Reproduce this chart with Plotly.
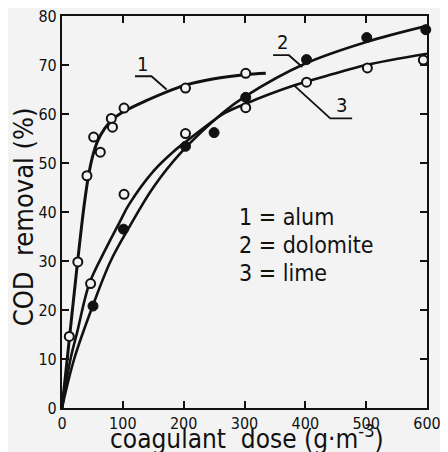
import plotly.graph_objects as go

# measured points
dose_alum = [12, 26, 41, 52, 63, 81, 83, 102, 203, 302]
cod_alum = [14.6, 29.8, 47.4, 55.3, 52.2, 59.1, 57.3, 61.2, 65.3, 68.3]
dose_dolomite = [51, 101, 203, 250, 302, 402, 501, 598]
cod_dolomite = [20.8, 36.5, 53.4, 56.2, 63.4, 71.1, 75.6, 77.2]
dose_lime = [47, 102, 203, 302, 402, 502, 594]
cod_lime = [25.4, 43.6, 56.0, 61.3, 66.5, 69.4, 71.0]

# fitted curves
curve1_x = [0, 12, 24, 36, 43, 50, 58, 70, 84, 103, 136, 200, 250, 300, 335]
curve1_y = [0, 14, 28, 41, 47, 51.2, 54.3, 57, 59, 60.6, 62.6, 65.8, 67.2, 68, 68.3]
curve2_x = [0, 20, 51, 80, 111, 150, 197, 265, 300, 400, 500, 600]
curve2_y = [0, 10, 21, 30, 37, 45, 52.3, 60.3, 63.5, 70.3, 74.7, 78]
curve3_x = [0, 14, 25, 45, 70, 95, 110, 150, 183, 205, 265, 300, 381, 450, 500, 600]
curve3_y = [0, 10, 15.5, 25.4, 32, 38, 41.5, 48.3, 52.3, 54.5, 60, 62, 65.8, 68.3, 70, 72.3]

legend_lines = ["1 = alum", "2 = dolomite", "3 = lime"]
x_ticks = [0, 100, 200, 300, 400, 500, 600]
y_ticks = [0, 10, 20, 30, 40, 50, 60, 70, 80]

BG = "#f3f3f3"
INK = "#111111"
FONT = "DejaVu Sans Condensed, DejaVu Sans, sans-serif"

fig = go.Figure()
for cx, cy, w in [(curve1_x, curve1_y, 3), (curve2_x, curve2_y, 2.6), (curve3_x, curve3_y, 2.6)]:
    fig.add_trace(go.Scatter(x=cx, y=cy, mode="lines", line=dict(color=INK, width=w, shape="spline"),
                             hoverinfo="skip", cliponaxis=False))

open_marker = dict(symbol="circle", size=9, color=BG, line=dict(color=INK, width=2))
fig.add_trace(go.Scatter(x=dose_alum, y=cod_alum, mode="markers", marker=open_marker, cliponaxis=False))
fig.add_trace(go.Scatter(x=dose_lime, y=cod_lime, mode="markers", marker=open_marker, cliponaxis=False))
fig.add_trace(go.Scatter(x=dose_dolomite, y=cod_dolomite, mode="markers",
                         marker=dict(symbol="circle", size=10, color=INK, line=dict(color=INK, width=1)),
                         cliponaxis=False))

shapes = []
def leader(pts):
    path = "M " + " L ".join(f"{x},{y}" for x, y in pts)
    shapes.append(dict(type="path", xref="x", yref="y", path=path, line=dict(color=INK, width=1.8)))

leader([(120, 67.7), (147, 67.7), (172, 65)])
leader([(347, 72), (373, 72), (395, 69.6)])
leader([(381, 65.9), (441, 59.1), (477, 59.1)])

annotations = [
    dict(x=132, y=70.2, text="1", showarrow=False, xref="x", yref="y", font=dict(size=20, color=INK, family=FONT)),
    dict(x=362, y=74.6, text="2", showarrow=False, xref="x", yref="y", font=dict(size=20, color=INK, family=FONT)),
    dict(x=459, y=61.9, text="3", showarrow=False, xref="x", yref="y", font=dict(size=20, color=INK, family=FONT)),
]
for i, t in enumerate(legend_lines):
    annotations.append(dict(x=287, y=39.0 - 5.7 * i, text=t, showarrow=False, xref="x", yref="y",
                            xanchor="left", yanchor="middle", font=dict(size=23, color=INK, family=FONT)))
annotations.append(dict(x=0.508, y=-0.075, xref="paper", yref="paper", text="coagulant  dose (g·m<sup>-3</sup>)",
                        showarrow=False, xanchor="center", yanchor="middle", font=dict(size=26, color=INK, family=FONT)))
annotations.append(dict(x=-0.107, y=0.489, xref="paper", yref="paper", text="COD  removal (%)", textangle=-90,
                        showarrow=False, xanchor="center", yanchor="middle", font=dict(size=27, color=INK, family=FONT)))

axis_common = dict(showgrid=False, zeroline=False, showline=True, linecolor=INK, linewidth=2.2,
                   ticks="inside", ticklen=7, tickwidth=2, tickcolor=INK, mirror="ticks", automargin=False,
                   ticklabeloverflow="allow", tickfont=dict(size=16, color=INK, family=FONT))

# the page adds an 8px body margin, so the figure is 8px smaller and shifted
fig.update_layout(
    width=440, height=444,
    margin=dict(l=54, r=21, t=8, b=44),
    paper_bgcolor=BG, plot_bgcolor=BG,
    showlegend=False,
    xaxis=dict(range=[0, 600], tickvals=x_ticks, ticktext=[str(v) for v in x_ticks], **axis_common),
    yaxis=dict(range=[0, 80], tickvals=y_ticks, ticktext=[str(v) for v in y_ticks], **axis_common),
    shapes=shapes,
    annotations=annotations,
)

fig.write_html("out.html")
